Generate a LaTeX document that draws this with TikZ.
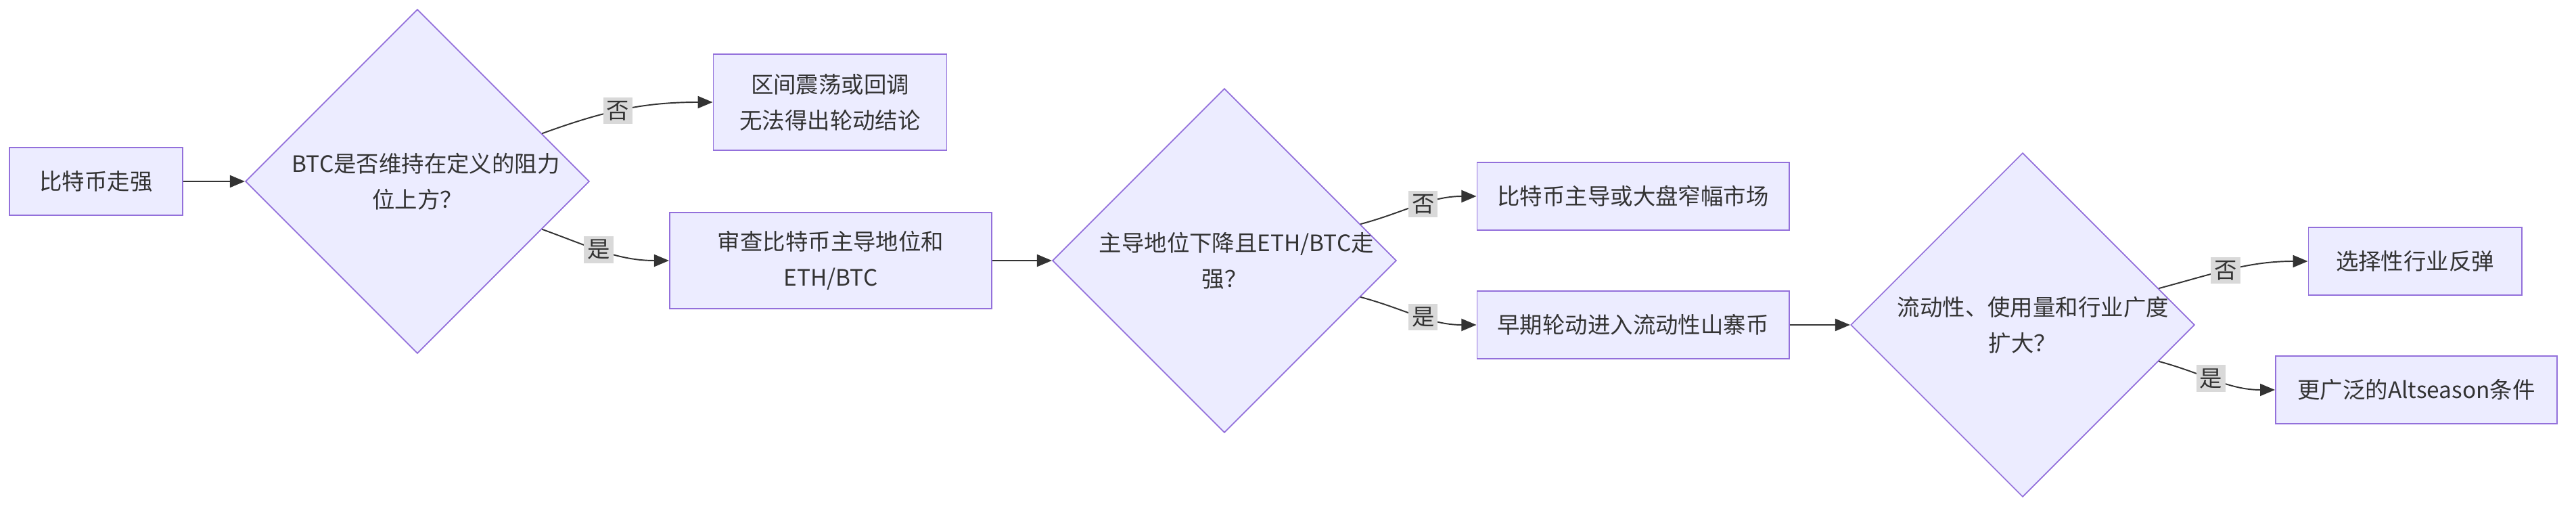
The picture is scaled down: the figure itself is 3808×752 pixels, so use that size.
\documentclass[tikz,border=0pt]{standalone}
\usepackage{fontspec}
\setmainfont{Noto Sans CJK SC}
\usetikzlibrary{arrows.meta, positioning, shapes.geometric}
\definecolor{boxfill}{HTML}{ECECFF}
\definecolor{boxline}{HTML}{9370DB}
\definecolor{edgeline}{HTML}{333333}
\definecolor{lblfill}{HTML}{D9D9D9}
\tikzset{%
	box/.style={draw=boxline, fill=boxfill, line width=0.5pt, rectangle, inner sep=0mm,%
		align=center, font=\fontsize{9.5}{15}\selectfont, text=edgeline},
	dec/.style={draw=boxline, fill=boxfill, line width=0.5pt, diamond, aspect=1,%
		minimum size=5.08cm, inner sep=0mm, text width=3.7cm, align=center,%
		font=\fontsize{9.5}{15}\selectfont, text=edgeline},
	flow/.style={-{Triangle[length=2.2mm, width=1.8mm]}, draw=edgeline, line width=0.55pt},
	lbl/.style={fill=lblfill, inner sep=0.5mm, font=\fontsize{9.5}{12}\selectfont, text=edgeline}
}
\begin{document}
\begin{tikzpicture}[x=0.01cm, y=-0.01cm]
	\useasboundingbox (0,0) rectangle (3808,752);
	\node[box, minimum width=2.56cm, minimum height=1cm] (start) at (142,268) {比特币走强};
	\node[dec] (d1) at (617,268) {BTC是否维持在定义的阻力\\位上方？};
	\node[box, minimum width=3.45cm, minimum height=1.42cm] (range) at (1227,151) {区间震荡或回调\\无法得出轮动结论};
	\node[box, minimum width=4.76cm, minimum height=1.42cm] (review) at (1228,385) {审查比特币主导地位和\\ETH/BTC};
	\node[dec] (d2) at (1810,385) {主导地位下降且ETH/BTC走\\强？};
	\node[box, minimum width=4.61cm, minimum height=1cm] (narrow) at (2414,290) {比特币主导或大盘窄幅市场};
	\node[box, minimum width=4.61cm, minimum height=1cm] (early) at (2414,480) {早期轮动进入流动性山寨币};
	\node[dec] (d3) at (2990,480) {流动性、使用量和行业广度\\扩大？};
	\node[box, minimum width=3.15cm, minimum height=1cm] (sector) at (3570,386) {选择性行业反弹};
	\node[box, minimum width=4.16cm, minimum height=1cm] (alt) at (3572,576) {更广泛的Altseason条件};

	\draw[flow] (start) -- (d1);
	\draw[flow] (d1.21) to[out=20, in=180] node[lbl, pos=0.45] {否} (range.west);
	\draw[flow] (d1.-21) to[out=-20, in=180] node[lbl, pos=0.45] {是} (review.west);
	\draw[flow] (review) -- (d2);
	\draw[flow] (d2.15) to[out=15, in=180] node[lbl, pos=0.55] {否} (narrow.west);
	\draw[flow] (d2.-15) to[out=-15, in=180] node[lbl, pos=0.55] {是} (early.west);
	\draw[flow] (early) -- (d3);
	\draw[flow] (d3.15) to[out=15, in=180] node[lbl, pos=0.45] {否} (sector.west);
	\draw[flow] (d3.-15) to[out=-15, in=180] node[lbl, pos=0.45] {是} (alt.west);
\end{tikzpicture}
\end{document}
